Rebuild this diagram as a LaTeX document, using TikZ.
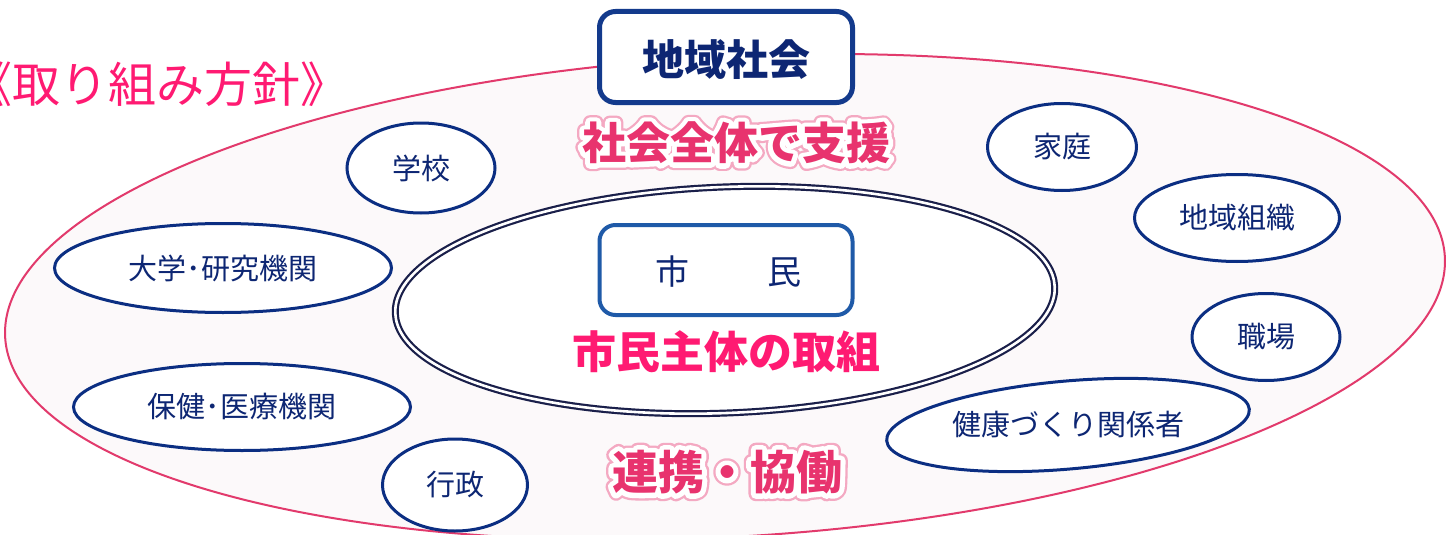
\documentclass[tikz,border=0pt]{standalone}
\usepackage{fontspec}
\setmainfont{Noto Sans CJK JP}
\newfontfamily\haloouter{Noto Sans CJK JP}[FakeBold=32]
\newfontfamily\haloinner{Noto Sans CJK JP}[FakeBold=22]
\usetikzlibrary{shapes.geometric,calc}
\definecolor{navy}{HTML}{0D2673}
\definecolor{ringblue}{HTML}{0B2E82}
\definecolor{boxblue}{HTML}{133A8C}
\definecolor{lightblue}{HTML}{1F5AA8}
\definecolor{hotpink}{HTML}{FF1A72}
\definecolor{halopink}{HTML}{E8336E}
\definecolor{haloout}{HTML}{F4A9C2}
\definecolor{outerline}{HTML}{E23A6C}
\definecolor{outerfill}{HTML}{FCF9FA}
\definecolor{innerline}{HTML}{1A1F4A}
\newcommand\halotext[1]{%
  \rlap{\haloouter\bfseries\color{haloout}#1}%
  \rlap{\haloinner\bfseries\color{white}#1}%
  {\bfseries\color{halopink}#1}}
\begin{document}
\begin{tikzpicture}[x=1pt,y=-1pt,
  halofont/.style={font=\fontsize{#1pt}{#1pt}\selectfont, inner sep=0pt, line join=round, line cap=round},
  smalltext/.style={font=\fontsize{29pt}{32pt}\selectfont, text=navy},
  org/.style={ellipse, draw=ringblue, line width=3pt, fill=white, inner sep=0pt, smalltext},
  titlebox/.style={rounded corners=16pt, fill=white, inner sep=0pt}
]
\useasboundingbox (0,0) rectangle (1446,535);
\fill[white] (0,0) rectangle (1446,535);

% outer ellipse
\node[ellipse, draw=outerline, line width=2pt, fill=outerfill,
      minimum width=1442pt, minimum height=480pt, rotate=3.2, inner sep=0pt] (outer) at (725,297) {};

% title
\node[anchor=west, inner sep=0pt, text=hotpink, font=\fontsize{48pt}{50pt}\selectfont] (title) at (-36,84) {《取り組み方針》};

% top box
\node[titlebox, draw=boxblue, line width=5pt, minimum width=253pt, minimum height=91pt] (chiiki) at (726,57) {};
\node[inner sep=0pt, text=navy, font=\bfseries\fontsize{42pt}{44pt}\selectfont] (chiikit) at (726,60) {地域社会};

% central double ellipse
\node[ellipse, draw=innerline, line width=2.2pt, double=white, double distance=2.6pt, fill=white,
      minimum width=660pt, minimum height=226pt, rotate=2.3, inner sep=0pt] (center) at (725,300) {};

% citizen box
\node[titlebox, draw=lightblue, line width=4pt, minimum width=253pt, minimum height=90pt] (shimin) at (726,270) {};
\node[inner sep=0pt, text=navy, font=\fontsize{34pt}{36pt}\selectfont] (shimint) at (728,272) {市\hspace{78pt}民};
\node[inner sep=0pt, text=hotpink, font=\bfseries\fontsize{44pt}{46pt}\selectfont] (shutai) at (726,352) {市民主体の取組};

% halo labels
\node[halofont=44] (shien) at (736,143) {\halotext{社会全体で支援}};
\node[halofont=46] (renkei) at (727,472) {\halotext{連携・協働}};

% organisations
\node[org, minimum width=148pt, minimum height=90pt] (gakko) at (421,168) {学校};
\node[org, minimum width=337pt, minimum height=89pt] (daigaku) at (223,268) {大学･研究機関};
\node[org, minimum width=337pt, minimum height=87pt] (hoken) at (242,407) {保健･医療機関};
\node[org, minimum width=145pt, minimum height=92pt] (gyosei) at (455,485) {行政};
\node[org, minimum width=149pt, minimum height=87pt] (katei) at (1062,147) {家庭};
\node[org, minimum width=205pt, minimum height=87pt] (soshiki) at (1237,218) {地域組織};
\node[org, minimum width=148pt, minimum height=87pt] (shokuba) at (1266,337) {職場};
\node[ellipse, draw=ringblue, line width=3pt, fill=white, inner sep=0pt,
      minimum width=364pt, minimum height=88pt, rotate=5] (kenko) at (1068,425) {};
\node[smalltext, inner sep=0pt] (kenkot) at (1068,425) {健康づくり関係者};
\end{tikzpicture}
\end{document}
